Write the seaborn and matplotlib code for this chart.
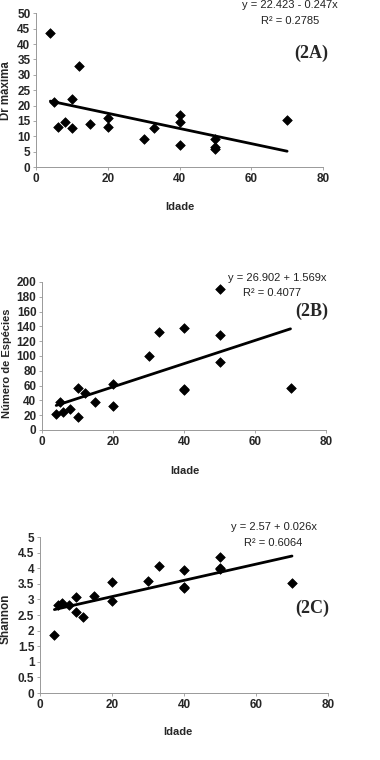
import numpy as np
import pandas as pd
import matplotlib
matplotlib.use("Agg")
import matplotlib.pyplot as plt
import seaborn as sns

# ---- data ----
idade_a = [4, 5, 6, 8, 10, 10, 12, 15, 20, 20, 30, 33, 40, 40, 40, 50, 50, 50, 70]
dr_maxima = [43.5, 21.2, 13, 14.8, 22, 12.8, 33, 14, 15.8, 13, 9, 12.8, 17, 14.5, 7.2, 9, 6.5, 6, 15.2]

idade_b = [4, 5, 6, 8, 10, 10, 12, 15, 20, 20, 30, 33, 40, 40, 40, 50, 50, 50, 70]
num_especies = [22, 38, 24, 28, 57, 18, 50, 38, 62, 33, 100, 132, 138, 56, 54, 190, 128, 92, 57]

idade_c = [4, 5, 6, 8, 10, 10, 12, 15, 20, 20, 30, 33, 40, 40, 40, 50, 50, 50, 70]
shannon = [1.85, 2.83, 2.9, 2.82, 3.07, 2.6, 2.43, 3.1, 3.57, 2.95, 3.6, 4.07, 3.93, 3.4, 3.35, 4.35, 4.0, 3.97, 3.52]

fit_a = (22.423, -0.247)
fit_b = (26.902, 1.569)
fit_c = (2.57, 0.026)

eq_a = ["y = 22.423 - 0.247x", "R² = 0.2785"]
eq_b = ["y = 26.902 + 1.569x", "R² = 0.4077"]
eq_c = ["y = 2.57 + 0.026x", "R² = 0.6064"]

x_ticks = [0, 20, 40, 60, 80]
y_ticks_a = list(range(0, 51, 5))
y_ticks_b = list(range(0, 201, 20))
y_ticks_c = [0, 0.5, 1, 1.5, 2, 2.5, 3, 3.5, 4, 4.5, 5]
y_ticklabels_c = ["0", "0.5", "1", "1.5", "2", "2.5", "3", "3.5", "4", "4.5", "5"]

sns.set_theme(style="white")
plt.rcParams['font.family'] = ['Liberation Sans', 'DejaVu Sans']

fig = plt.figure(figsize=(3.8, 7.6), dpi=100)
fig.patch.set_facecolor("white")

W, H = 380.0, 760.0
def mk_axes(l, r, top, bot):
    return fig.add_axes([l / W, 1 - bot / H, (r - l) / W, (bot - top) / H])

axA = mk_axes(36, 323, 13.3, 167)
axB = mk_axes(42, 326, 282, 430)
axC = mk_axes(40, 328, 537, 693)

panels = [
    (axA, idade_a, dr_maxima, fit_a, eq_a, y_ticks_a, [str(t) for t in y_ticks_a], (0, 50), "(2A)",
     (0.885, 1.054), (0.885, 0.95), (0.96, 0.74)),
    (axB, idade_b, num_especies, fit_b, eq_b, y_ticks_b, [str(t) for t in y_ticks_b], (0, 200), "(2B)",
     (0.827, 1.027), (0.81, 0.926), (0.95, 0.80)),
    (axC, idade_c, shannon, fit_c, eq_c, y_ticks_c, y_ticklabels_c, (0, 5), "(2C)",
     (0.8125, 1.064), (0.809, 0.96), (0.944, 0.545)),
]

for ax, xs, ys, fit, eq, yt, ytl, ylim, tag, p1, p2, p3 in panels:
    df = pd.DataFrame({"Idade": xs, "v": ys})
    sns.scatterplot(data=df, x="Idade", y="v", ax=ax, marker="D", color="black",
                    edgecolor="black", s=24, linewidth=0.5, zorder=3)
    xl = np.array([min(xs), max(xs)], dtype=float)
    ax.plot(xl, fit[0] + fit[1] * xl, color="black", lw=2.0, zorder=2)
    ax.set_xlim(0, 80)
    ax.set_ylim(*ylim)
    ax.set_xticks(x_ticks)
    ax.set_xticklabels([str(t) for t in x_ticks], fontsize=8.5, fontweight="bold")
    ax.set_yticks(yt)
    ax.set_yticklabels(ytl, fontsize=8.5, fontweight="bold")
    ax.tick_params(axis="both", direction="out", length=2.5, width=0.6, color="#999999", pad=2,
                   bottom=True, left=True)
    ax.tick_params(axis="y", pad=1.5)
    for s in ["top", "right"]:
        ax.spines[s].set_visible(False)
    for s in ["left", "bottom"]:
        ax.spines[s].set_color("#999999")
        ax.spines[s].set_linewidth(0.7)
    ax.set_xlabel("")
    ax.set_ylabel("")
    ax.set_facecolor("white")
    ax.text(p1[0], p1[1], eq[0], transform=ax.transAxes, ha="center", va="center", fontsize=8, color="#222222")
    ax.text(p2[0], p2[1], eq[1], transform=ax.transAxes, ha="center", va="center", fontsize=8, color="#222222")
    ax.text(p3[0], p3[1], tag, transform=ax.transAxes, ha="center", va="center", fontsize=13,
            fontweight="bold", family=["Liberation Serif", "DejaVu Serif"])

# y labels
fig.text(6 / W, 1 - 91 / H, "Dr máxima", rotation=90, ha="center", va="center", fontsize=8.3, fontweight="bold")
fig.text(7 / W, 1 - 363 / H, "Número de Espécies", rotation=90, ha="center", va="center", fontsize=8, fontweight="bold")
fig.text(6 / W, 1 - 619 / H, "Shannon", rotation=90, ha="center", va="center", fontsize=8.5, fontweight="bold")
# x labels
fig.text(180 / W, 1 - 207 / H, "Idade", ha="center", va="center", fontsize=8, fontweight="bold")
fig.text(185 / W, 1 - 471 / H, "Idade", ha="center", va="center", fontsize=8, fontweight="bold")
fig.text(178 / W, 1 - 732 / H, "Idade", ha="center", va="center", fontsize=8, fontweight="bold")

fig.savefig("out.png", dpi=100, facecolor="white")
